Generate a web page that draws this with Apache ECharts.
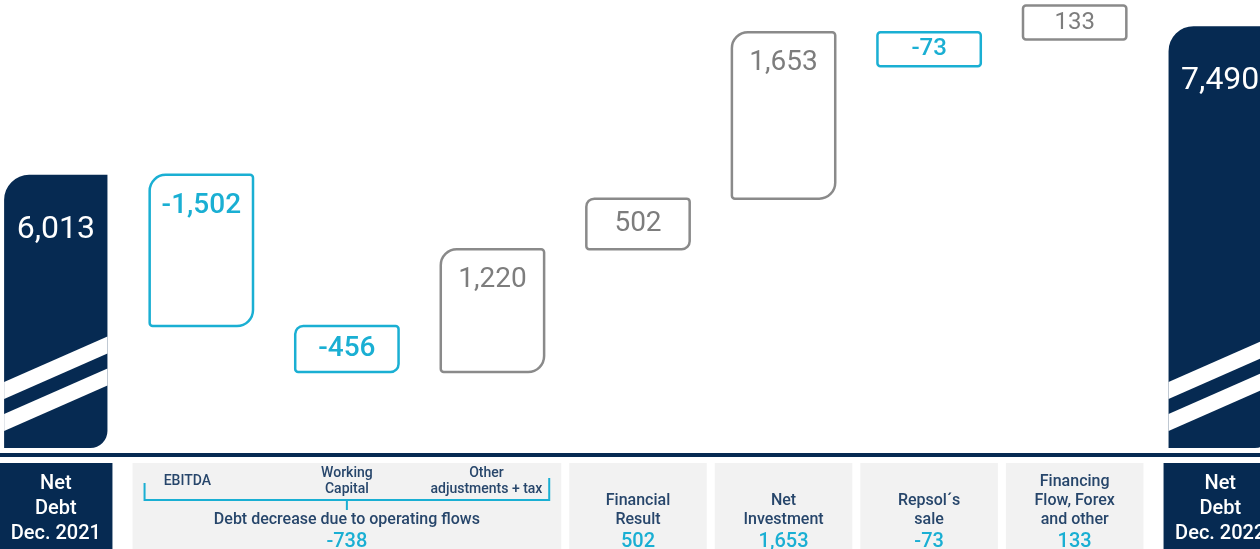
<!DOCTYPE html>
<html>
<head>
<meta charset="utf-8">
<script src="https://cdn.jsdelivr.net/npm/echarts@6/dist/echarts.min.js"></script>
<style>
  html, body { margin: 0; padding: 0; background: #ffffff; overflow: hidden; width: 1260px; height: 549px; }
  /* the category bands run a little past both page edges */
  #chart { position: absolute; left: -17px; top: 0; width: 1310px; height: 549px; }
</style>
</head>
<body>
<div id="chart"></div>
<script>
// Net debt bridge, Dec. 2021 -> Dec. 2022 (M€)
const categories = [
  'Net Debt Dec. 2021', 'EBITDA', 'Working Capital', 'Other adjustments + tax',
  'Financial Result', 'Net Investment', 'Repsol´s sale',
  'Financing Flow, Forex and other', 'Net Debt Dec. 2022'
];
const barValues = [6013, -1502, -456, 1220, 502, 1653, -73, 133, 7490];
const isTotal = [true, false, false, false, false, false, false, false, true];

// Label panels under the axis: first/last category each panel covers
const panelSpans = [[0, 0], [1, 3], [4, 4], [5, 5], [6, 6], [7, 7], [8, 8]];
const panelTitles = [
  'Net\nDebt\nDec. 2021', 'Debt decrease due to operating flows', 'Financial\nResult',
  'Net\nInvestment', 'Repsol´s\nsale', 'Financing\nFlow, Forex\nand other', 'Net\nDebt\nDec. 2022'
];
const panelValues = [null, -738, 502, 1653, -73, 133, null];
const subLabels = ['', 'EBITDA', 'Working\nCapital', 'Other\nadjustments + tax', '', '', '', '', ''];

const Y_MIN = 3300, Y_MAX = 7750;
const NAVY = '#062a52', CYAN = '#1aafd3', GRAY = '#8a8a8a', GRAY_TEXT = '#7d7d7d';
const PANEL_BG = '#f2f2f2', PANEL_TEXT = '#27466b';
const NUM_FONT = 'Roboto, "Noto Sans", sans-serif';
const BAR_RATIO = 0.71;

const fmt = v => v.toLocaleString('en-US');

// Waterfall: each step floats between the running level before and after it
let level = 0;
const barData = barValues.map((v, i) => {
  if (isTotal[i]) { level = v; return [i, Y_MIN, v, v, 1]; }
  const from = level;
  level += v;
  return [i, Math.min(from, level), Math.max(from, level), v, 0];
});
const panelData = panelSpans.map(s => [s[0], Y_MIN, s[1]]);

const MIN_H = 34;

function renderBar(params, api) {
  const i = api.value(0), lo = api.value(1), hi = api.value(2), v = api.value(3), total = api.value(4);
  const band = api.size([1, 0])[0];
  const w = band * BAR_RATIO;
  const cx = api.coord([i, lo])[0];
  const x = cx - w / 2;
  let yTop = api.coord([i, hi])[1];
  let yBot = api.coord([i, lo])[1];

  if (total) {
    // axis-break stripes near the foot of the total bars
    const drop = w * 0.44;
    const stripe = (a, b) => ({
      type: 'polygon',
      shape: { points: [[x, yBot - a], [x + w, yBot - a - drop], [x + w, yBot - b - drop], [x, yBot - b]] },
      style: { fill: '#ffffff' }
    });
    return {
      type: 'group',
      children: [
        { type: 'rect', shape: { x: x, y: yTop, width: w, height: yBot - yTop, r: [25, 0, 17, 0] }, style: { fill: NAVY } },
        stripe(49, 66),
        stripe(17, 34),
        { type: 'text', style: { text: fmt(v), x: cx, y: yTop + 55, align: 'center', verticalAlign: 'middle',
            fill: '#ffffff', fontSize: 32, fontWeight: 400, fontFamily: NUM_FONT } }
      ]
    };
  }

  // keep small steps tall enough to hold their label
  if (yBot - yTop < MIN_H) {
    if (v < 0) yBot = yTop + MIN_H; else yTop = yBot - MIN_H;
  }
  const h = yBot - yTop;
  const r = h > 90 ? 16 : (h > 40 ? 8 : 3);
  const color = v < 0 ? CYAN : GRAY;
  return {
    type: 'group',
    children: [
      { type: 'rect', shape: { x: x, y: yTop, width: w, height: h, r: [r, 3, r, 3] },
        style: { fill: '#ffffff', stroke: color, lineWidth: 2.5 } },
      { type: 'text', style: {
          text: fmt(v), x: cx, y: h > 80 ? yTop + 31 : (yTop + yBot) / 2,
          align: 'center', verticalAlign: 'middle',
          fill: v < 0 ? CYAN : GRAY_TEXT, fontSize: h < 40 ? 24 : 28,
          fontWeight: v < 0 ? 500 : 400, fontFamily: NUM_FONT } }
    ]
  };
}

function renderPanel(params, api) {
  const k = params.dataIndex;
  const s = api.value(0), e = api.value(2);
  const band = api.size([1, 0])[0];
  const p0 = api.coord([s, Y_MIN]);
  const dark = panelValues[k] == null;
  let xL = p0[0] - band / 2 + 4;
  let xR = api.coord([e, Y_MIN])[0] + band / 2 - 4;
  if (dark) {
    // total panels hug their bar
    const half = band * BAR_RATIO / 2 + 5;
    xL = p0[0] - half;
    xR = p0[0] + half;
  }
  const top = p0[1] + 15;
  const mid = (xL + xR) / 2;
  const children = [
    { type: 'rect', shape: { x: xL, y: top, width: xR - xL, height: 120 }, style: { fill: dark ? NAVY : PANEL_BG } }
  ];
  if (dark) {
    children.push({ type: 'text', style: {
      text: panelTitles[k], x: mid, y: top + 46, align: 'center', verticalAlign: 'middle',
      fill: '#ffffff', fontSize: 20, fontWeight: 500, lineHeight: 25, fontFamily: NUM_FONT } });
    return { type: 'group', children };
  }
  children.push({ type: 'text', style: {
    text: panelTitles[k], x: mid, y: top + 66, align: 'center', verticalAlign: 'bottom',
    fill: PANEL_TEXT, fontSize: 16, fontWeight: 500, lineHeight: 19, fontFamily: NUM_FONT } });
  children.push({ type: 'text', style: {
    text: fmt(panelValues[k]), x: mid, y: top + 79, align: 'center', verticalAlign: 'middle',
    fill: CYAN, fontSize: 20, fontWeight: 500, fontFamily: NUM_FONT } });

  if (e > s) {
    // bracket grouping the operating-flow components
    const bl = xL + 12, br = xR - 12, bm = (bl + br) / 2, by = top + 37;
    const line = pts => ({ type: 'polyline', shape: { points: pts }, style: { stroke: CYAN, lineWidth: 2, fill: null } });
    children.push(line([[bl, top + 20], [bl, by], [br, by], [br, top + 15]]));
    children.push(line([[bm, by], [bm, by + 10]]));
    for (let j = s; j <= e; j++) {
      children.push({ type: 'text', style: {
        text: subLabels[j], x: api.coord([j, Y_MIN])[0] - (j - s === 0 ? 14 : (j === e ? 6 : 0)), y: top + 18,
        align: 'center', verticalAlign: 'middle',
        fill: PANEL_TEXT, fontSize: 14, fontWeight: 500, lineHeight: 16, fontFamily: NUM_FONT } });
    }
  }
  return { type: 'group', children };
}

const chart = echarts.init(document.getElementById('chart'), null, { renderer: 'canvas' });
chart.setOption({
  animation: false,
  grid: { left: 0, right: 0, top: 0, bottom: 101 },
  xAxis: {
    type: 'category',
    data: categories,
    offset: 7,
    axisLine: { show: true, lineStyle: { color: NAVY, width: 4 } },
    axisTick: { show: false },
    axisLabel: { show: false },
    splitLine: { show: false }
  },
  yAxis: { type: 'value', min: Y_MIN, max: Y_MAX, show: false, splitLine: { show: false } },
  series: [
    { type: 'custom', name: 'panels', clip: false, renderItem: renderPanel,
      encode: { x: 0, y: 1 }, data: panelData, z: 1 },
    { type: 'custom', name: 'net debt', clip: false, renderItem: renderBar,
      encode: { x: 0, y: [1, 2] }, data: barData, z: 2 }
  ]
});
</script>
</body>
</html>
